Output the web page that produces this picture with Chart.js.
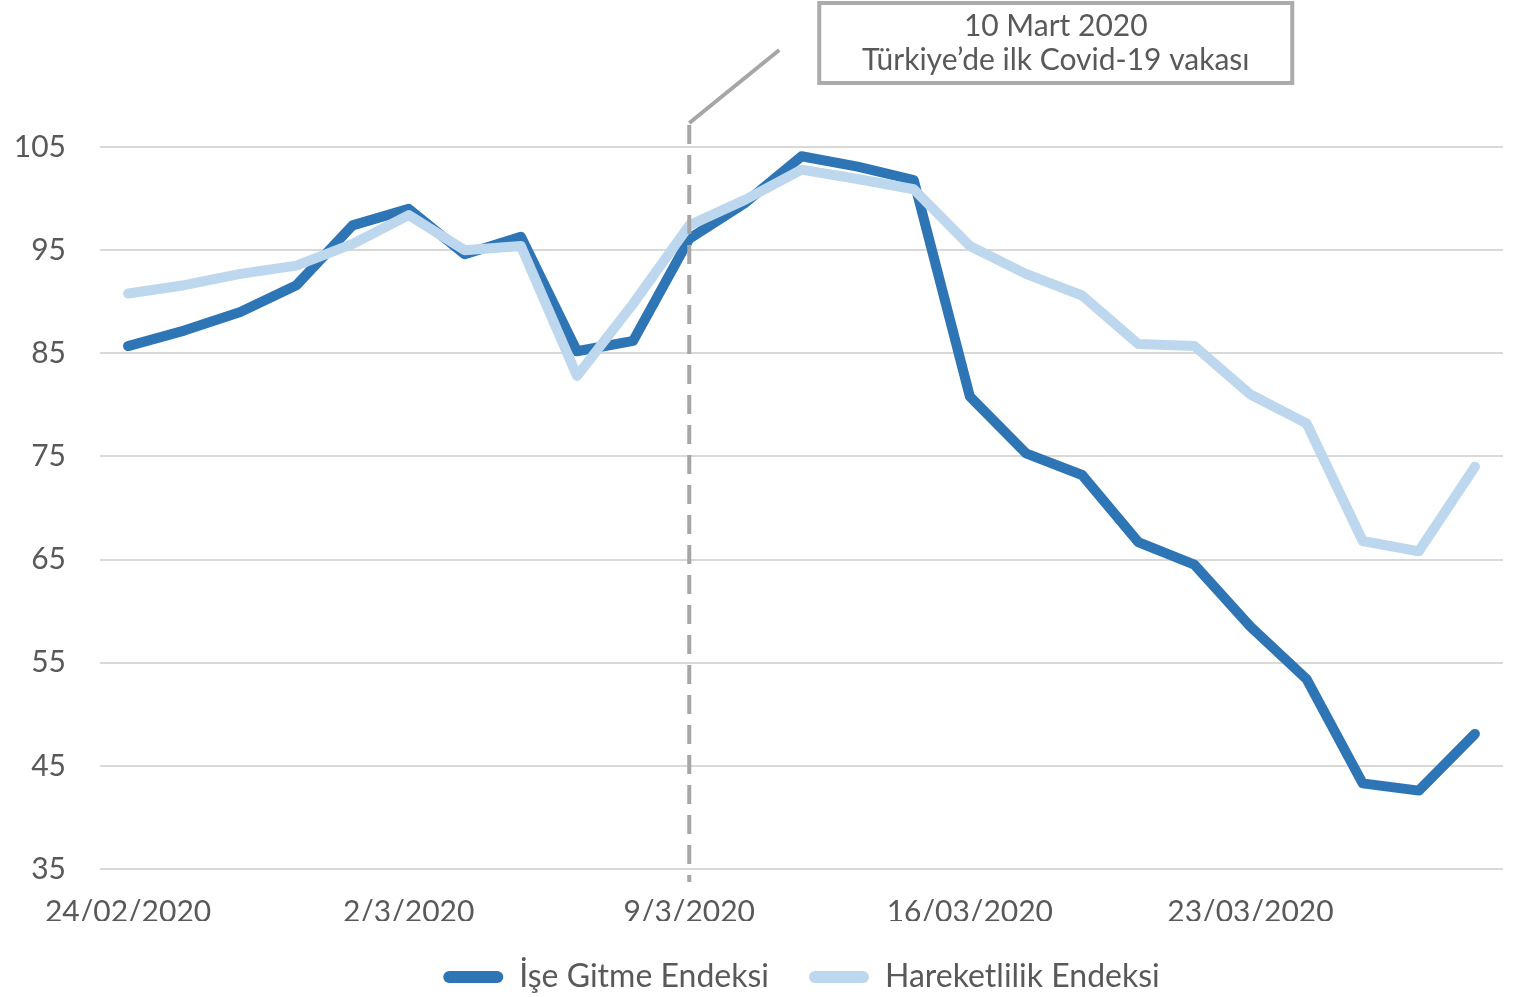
<!DOCTYPE html>
<html>
<head>
<meta charset="utf-8">
<script src="https://cdn.jsdelivr.net/npm/chart.js@4"></script>
<style>
  html, body { margin: 0; padding: 0; background: #fff; }
  #wrap { width: 1532px; height: 997px; }
</style>
</head>
<body>
<div id="wrap"><canvas id="covid-chart"></canvas></div>
<script>
const dates = [
    '24/02/2020', '25/02/2020', '26/02/2020', '27/02/2020', '28/02/2020',
    '2/3/2020', '3/3/2020', '4/3/2020', '5/3/2020', '6/3/2020',
    '9/3/2020', '10/3/2020', '11/3/2020', '12/3/2020', '13/3/2020',
    '16/03/2020', '17/03/2020', '18/03/2020', '19/03/2020', '20/03/2020',
    '23/03/2020', '24/03/2020', '25/03/2020', '26/03/2020', '27/03/2020'
];
const iseGitme = [
    85.7, 87.2, 89.0, 91.6, 97.4,
    99.0, 94.6, 96.3, 85.2, 86.2,
    96.1, 99.6, 104.1, 103.1, 101.8,
    80.8, 75.3, 73.2, 66.7, 64.5,
    58.5, 53.4, 43.3, 42.6, 48.1
];
const hareketlilik = [
    90.8, 91.6, 92.7, 93.5, 95.6,
    98.4, 95.0, 95.4, 82.8, 89.8,
    97.4, 99.9, 102.8, 101.9, 100.9,
    95.4, 92.7, 90.6, 85.9, 85.7,
    81.0, 78.2, 66.8, 65.8, 74.0
];
const yTicks = [35, 45, 55, 65, 75, 85, 95, 105];
const eventIndex = 10;
const eventText = ['10 Mart 2020', 'Türkiye’de ilk Covid-19 vakası'];

const textColor = '#595959';
const lineGray = '#A6A6A6';
const fontName = 'Lato, "Open Sans", sans-serif';

// dashed line at 9/3 + callout box
const eventMarker = {
    id: 'eventMarker',
    afterDatasetsDraw(chart) {
        const ctx = chart.ctx;
        const area = chart.chartArea;
        const x = chart.scales.x.getPixelForValue(eventIndex);
        ctx.save();
        ctx.strokeStyle = lineGray;
        ctx.lineWidth = 4;
        ctx.setLineDash([19, 11]);
        ctx.beginPath();
        ctx.moveTo(x, area.top - 22);
        ctx.lineTo(x, area.bottom + 13);
        ctx.stroke();
        ctx.setLineDash([]);
        ctx.beginPath();
        ctx.moveTo(x, area.top - 24);
        ctx.lineTo(x + 90, area.top - 97);
        ctx.stroke();

        const bx = x + 130, by = 3, bw = 473, bh = 80;
        ctx.lineWidth = 4;
        ctx.strokeStyle = '#ABABAB';
        ctx.fillStyle = '#fff';
        ctx.fillRect(bx, by, bw, bh);
        ctx.strokeRect(bx, by, bw, bh);
        ctx.fillStyle = textColor;
        ctx.font = '30px ' + fontName;
        ctx.textAlign = 'center';
        ctx.textBaseline = 'middle';
        ctx.fillText(eventText[0], bx + bw / 2, by + 23);
        ctx.fillText(eventText[1], bx + bw / 2, by + 57);
        ctx.restore();
    }
};

const datasets = [
    {
        label: 'İşe Gitme Endeksi',
        data: iseGitme,
        borderColor: '#2E75B6',
        backgroundColor: '#2E75B6',
        order: 1
    },
    {
        label: 'Hareketlilik Endeksi',
        data: hareketlilik,
        borderColor: '#BDD7EE',
        backgroundColor: '#BDD7EE',
        order: 0
    }
];
datasets.forEach(d => {
    d.borderWidth = 10;
    d.pointRadius = 0;
    d.borderCapStyle = 'round';
    d.borderJoinStyle = 'round';
    d.tension = 0;
});

Chart.defaults.font.family = fontName;
Chart.defaults.color = textColor;

new Chart(document.getElementById('covid-chart'), {
    type: 'line',
    data: { labels: dates, datasets: datasets },
    options: {
        responsive: true,
        maintainAspectRatio: false,
        animation: false,
        layout: { padding: { left: 14, right: 29, top: 147, bottom: -6 } },
        scales: {
            x: {
                offset: true,
                grid: { display: false },
                border: { display: false },
                afterFit: axis => { axis.height = 52; },
                ticks: {
                    autoSkip: false,
                    maxRotation: 0,
                    padding: 17,
                    font: { size: 30 },
                    callback: (v, i) => (i % 5 === 0 ? dates[i] : '')
                }
            },
            y: {
                min: 35,
                max: 105,
                afterBuildTicks: axis => { axis.ticks = yTicks.map(v => ({ value: v })); },
                afterFit: axis => { axis.width = 86; },
                grid: { color: '#D9D9D9', lineWidth: 2, drawTicks: false },
                border: { display: false },
                ticks: { padding: 34, font: { size: 30 } }
            }
        },
        plugins: {
            tooltip: { enabled: false },
            legend: {
                position: 'bottom',
                fullSize: false,
                labels: {
                    boxWidth: 60,
                    boxHeight: 12,
                    useBorderRadius: true,
                    borderRadius: 6,
                    padding: 40,
                    font: { size: 32 },
                    generateLabels: chart => chart.data.datasets.map((d, i) => ({
                        text: d.label,
                        fillStyle: d.borderColor,
                        strokeStyle: d.borderColor,
                        lineWidth: 0,
                        borderRadius: 6,
                        fontColor: textColor,
                        datasetIndex: i,
                        hidden: false
                    }))
                }
            }
        }
    },
    plugins: [eventMarker]
});
</script>
</body>
</html>
